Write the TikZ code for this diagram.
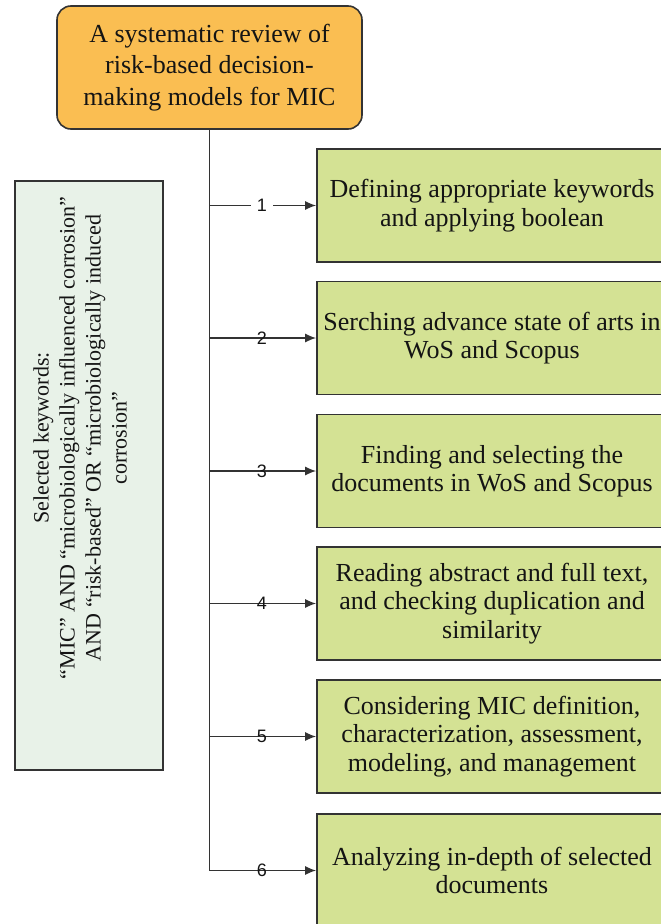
\documentclass[tikz,border=0pt]{standalone}
\usepackage{fontspec}
\setmainfont{Liberation Serif}
\newfontfamily\numfont{Liberation Sans}
\usetikzlibrary{arrows.meta}
\definecolor{titlefill}{RGB}{250,190,82}
\definecolor{stepfill}{RGB}{212,226,148}
\definecolor{kwfill}{RGB}{232,242,232}
\definecolor{edgegray}{RGB}{51,51,51}
\definecolor{ink}{RGB}{20,20,20}
\begin{document}
\begin{tikzpicture}[x=1pt,y=-1pt,
  box/.style={draw=edgegray, line width=1.6pt, text=ink, align=center, inner sep=0pt},
  titlebox/.style={box, fill=titlefill, rounded corners=14pt, minimum width=305pt,
    minimum height=123pt, font=\rmfamily\fontsize{26}{31.5}\selectfont},
  stepbox/.style={box, fill=stepfill, minimum width=350pt, minimum height=113pt,
    font=\rmfamily\fontsize{26}{28.5}\selectfont},
  kwbox/.style={box, fill=kwfill, minimum width=148pt, minimum height=589pt},
  link/.style={draw=edgegray, line width=1.6pt, -{Latex[length=11pt,width=9pt]}},
  num/.style={font=\numfont\fontsize{18}{18}\selectfont, text=ink, inner sep=2pt}
]
\useasboundingbox (0,0) rectangle (661,924);

% main title
\node[titlebox] (title) at (209.5,67.5)
  {A systematic review of\\risk-based decision-\\making models for MIC};

% keyword panel
\node[kwbox] (kw) at (89,475.5) {};
\node[rotate=90, align=center, text=ink, font=\rmfamily\fontsize{22}{26}\selectfont] (kwtext) at (80,438)
  {Selected keywords:\\“MIC” AND “microbiologically influenced corrosion”\\AND “risk-based” OR “microbiologically induced\\corrosion”};

% review steps
\node[stepbox] (s1) at (492,205.5) {Defining appropriate keywords\\and applying boolean};
\node[stepbox] (s2) at (492,338) {Serching advance state of arts in\\WoS and Scopus};
\node[stepbox] (s3) at (492,471) {Finding and selecting the\\documents in WoS and Scopus};
\node[stepbox] (s4) at (492,603.5) {Reading abstract and full text,\\and checking duplication and\\similarity};
\node[stepbox] (s5) at (492,736.5) {Considering MIC definition,\\characterization, assessment,\\modeling, and management};
\node[stepbox] (s6) at (492,870.5) {Analyzing in-depth of selected\\documents};

% spine and numbered arrows
\draw[link] (title.south) |- node[num, pos=0.745] {6} (s6.west);
\draw[link] (title.south |- s1.west) -- node[num, fill=white, inner sep=6pt, pos=0.49] {1} (s1.west);
\draw[link] (title.south |- s2.west) -- node[num, pos=0.49] {2} (s2.west);
\draw[link] (title.south |- s3.west) -- node[num, pos=0.49] {3} (s3.west);
\draw[link] (title.south |- s4.west) -- node[num, pos=0.49] {4} (s4.west);
\draw[link] (title.south |- s5.west) -- node[num, pos=0.49] {5} (s5.west);
\end{tikzpicture}
\end{document}
